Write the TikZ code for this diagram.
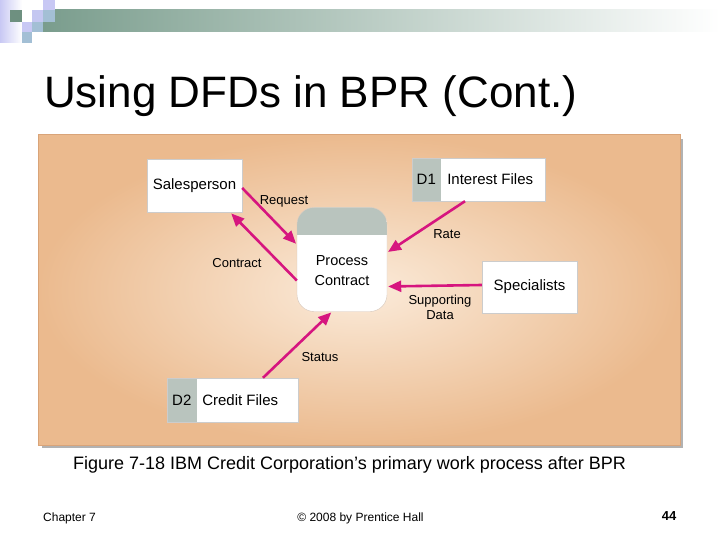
\documentclass[tikz,border=0pt]{standalone}
\usepackage{fontspec}
\setmainfont{Liberation Sans}
\usepackage{xcolor}
\usepackage{tikz}
\usetikzlibrary{positioning, arrows.meta}
\definecolor{bargreen}{HTML}{7A9D8D}
\definecolor{sqgreen}{HTML}{6E9080}
\definecolor{lavender}{HTML}{C8C8F4}
\definecolor{paleblue}{HTML}{A3BFD5}
\definecolor{paneltan}{HTML}{EBBA8E}
\definecolor{panelcream}{HTML}{FBEBDA}
\definecolor{panelrim}{HTML}{D9A479}
\definecolor{storegray}{HTML}{B9C4BE}
\definecolor{flowpink}{HTML}{D6157F}

\tikzset{
  entity/.style={draw=black!20, fill=white, minimum width=95pt, minimum height=53pt,
                 inner sep=0pt, font=\fontsize{15}{17}\selectfont},
  store/.style={draw=black!20, fill=white, inner sep=0pt,
                path picture={\fill[storegray] (path picture bounding box.north west)
                  rectangle ([xshift=#1]path picture bounding box.south west);}},
  storetext/.style={font=\fontsize{15}{17}\selectfont, inner sep=0pt},
  flow/.style={draw=flowpink, line width=2.6pt,
               -{Triangle[length=13pt, width=11pt]}, shorten >=1pt},
  flowlabel/.style={font=\fontsize{13}{14}\selectfont, inner sep=0pt, align=center},
}

\begin{document}
\begin{tikzpicture}[x=1pt, y=-1pt]
    \useasboundingbox (0,0) rectangle (720,540);
    \fill[white] (0,0) rectangle (720,540);

    % slide decoration
    \shade[left color=lavender, right color=white] (0,0) rectangle (22,43);
    \shade[left color=bargreen, right color=white] (43,10) rectangle (720,32);
    \fill[sqgreen] (10,10) rectangle (22,22);
    \fill[lavender] (43,0) rectangle (55,10);
    \fill[lavender!90!paleblue] (32,10) rectangle (43,22);
    \fill[paleblue] (43,10) rectangle (55,22);
    \fill[lavender] (22,22) rectangle (32,32);
    \fill[paleblue] (32,22) rectangle (43,32);
    \fill[paleblue] (22,32) rectangle (32,43);

    \node[anchor=base west, inner sep=0pt, font=\fontsize{44}{50}\selectfont] (title)
      at (44,108) {Using DFDs in BPR (Cont.)};

    % figure panel
    \fill[black!30] (42,139) rectangle (683,448);
    \shade[inner color=panelcream, outer color=paneltan, draw=panelrim, line width=1pt]
      (38,135) rectangle (680,445);

    % entities and stores
    \node[entity] (sales) at (194.5,186) {Salesperson};
    \node[entity, minimum height=52pt] (spec) at (529.5,287) {Specialists};

    \node[draw=panelrim!70!black!40, fill=white, rounded corners=17pt,
          minimum width=90pt, minimum height=104pt, inner sep=0pt,
          path picture={\fill[storegray, sharp corners] (path picture bounding box.north west)
            rectangle ([yshift=-27pt]path picture bounding box.north east);}]
      (proc) at (342,259.5) {};
    \node[align=center, inner sep=0pt, font=\fontsize{14.5}{20}\selectfont]
      (proctext) at ([yshift=-11pt]proc.center) {Process\\Contract};

    \node[store=29pt, minimum width=133pt, minimum height=43pt] (d1) at (478.5,179.5) {};
    \node[storetext] (d1id) at ([xshift=14.5pt]d1.west) {D1};
    \node[storetext] (d1name) at ([xshift=-55pt]d1.east) {Interest Files};

    \node[store=30pt, minimum width=131pt, minimum height=44pt] (d2) at (232.5,400) {};
    \node[storetext] (d2id) at ([xshift=15pt]d2.west) {D2};
    \node[storetext] (d2name) at ([xshift=-58pt]d2.east) {Credit Files};

    % data flows
    \draw[flow] ([yshift=-2pt]sales.east) -- ([yshift=15pt]proc.west);
    \draw[flow] ([yshift=-21pt]proc.west) -- ([xshift=36pt]sales.south);
    \draw[flow] ([xshift=-13.5pt]d1.south) -- ([yshift=7pt]proc.east);
    \draw[flow] ([yshift=2pt]spec.west) -- ([yshift=-27pt]proc.east);
    \draw[flow] ([xshift=30.5pt]d2.north) -- ([xshift=-10pt]proc.south);

    \node[flowlabel] (lrequest) at (284,201) {Request};
    \node[flowlabel] (lcontract) at (237,263) {Contract};
    \node[flowlabel] (lrate) at (447,234) {Rate};
    \node[flowlabel, font=\fontsize{13}{15}\selectfont] (lsupport) at (440,307) {Supporting\\Data};
    \node[flowlabel] (lstatus) at (320,357) {Status};

    % caption and footer
    \node[inner sep=0pt, font=\fontsize{18}{20}\selectfont] (caption) at (349.5,465)
      {Figure 7-18 IBM Credit Corporation’s primary work process after BPR};
    \node[anchor=west, inner sep=0pt, font=\fontsize{12}{14}\selectfont] (chapter) at (43,518) {Chapter 7};
    \node[inner sep=0pt, font=\fontsize{12}{14}\selectfont] (copyright) at (360.5,518) {© 2008 by Prentice Hall};
    \node[inner sep=0pt, font=\fontsize{13}{14}\selectfont\bfseries] (pagenum) at (669,516) {44};
  \end{tikzpicture}
\end{document}
